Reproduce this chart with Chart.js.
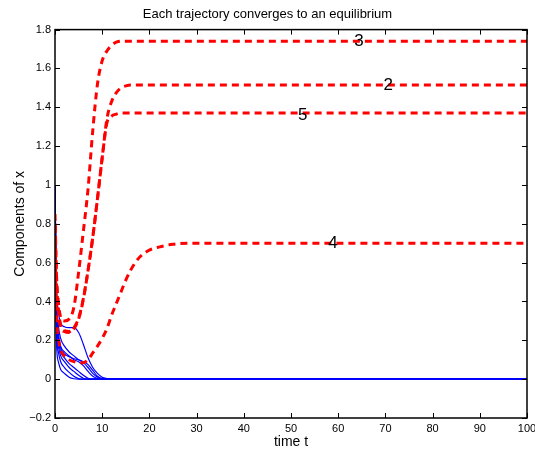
<!DOCTYPE html>
<html lang="en">
<head>
    <meta charset="UTF-8">
    <title>Each trajectory converges to an equilibrium</title>
    <script src="https://cdn.jsdelivr.net/npm/chart.js"></script>
    <style>
        body { margin: 0; background: #fff; }
    </style>
</head>
<body>
    <canvas id="trajChart" width="535" height="451"></canvas>

    <script>
        // time grid shared by all trajectories
        const timeT = [0, 0.3, 0.7, 1.2, 2, 3, 4, 5, 6, 7, 8, 9, 10, 11, 12, 13, 14, 15, 16, 17, 18, 19, 20, 22, 25, 30, 100];

        // components that go to a nonzero equilibrium (red dashed)
        const comp3 = [0.85, 0.55, 0.4, 0.32, 0.30, 0.31, 0.37, 0.55, 0.76, 0.98, 1.28, 1.52, 1.64, 1.69, 1.72, 1.735, 1.74, 1.74, 1.74, 1.74, 1.74, 1.74, 1.74, 1.74, 1.74, 1.74, 1.74];
        const comp2 = [0.8, 0.5, 0.35, 0.27, 0.245, 0.24, 0.26, 0.31, 0.41, 0.56, 0.73, 0.93, 1.14, 1.34, 1.43, 1.475, 1.50, 1.51, 1.515, 1.515, 1.515, 1.515, 1.515, 1.515, 1.515, 1.515, 1.515];
        const comp5 = [0.8, 0.51, 0.36, 0.28, 0.25, 0.245, 0.265, 0.315, 0.415, 0.56, 0.73, 0.93, 1.14, 1.32, 1.355, 1.365, 1.37, 1.37, 1.37, 1.37, 1.37, 1.37, 1.37, 1.37, 1.37, 1.37, 1.37];
        const comp4 = [0.7, 0.35, 0.22, 0.15, 0.12, 0.10, 0.09, 0.085, 0.085, 0.10, 0.135, 0.17, 0.21, 0.26, 0.33, 0.39, 0.45, 0.51, 0.56, 0.60, 0.63, 0.65, 0.665, 0.68, 0.695, 0.70, 0.70];

        // components that die out (blue solid)
        const blue1 = [1, 0.5, 0.35, 0.29, 0.27, 0.265, 0.265, 0.24, 0.18, 0.11, 0.06, 0.03, 0.01, 0.003, 0, 0, 0, 0, 0, 0, 0, 0, 0, 0, 0, 0, 0];
        const blue2 = [1, 0.45, 0.28, 0.21, 0.17, 0.14, 0.12, 0.10, 0.085, 0.06, 0.03, 0.01, 0, 0, 0, 0, 0, 0, 0, 0, 0, 0, 0, 0, 0, 0, 0];
        const blue3 = [1, 0.4, 0.24, 0.17, 0.14, 0.12, 0.10, 0.09, 0.07, 0.04, 0.015, 0.003, 0, 0, 0, 0, 0, 0, 0, 0, 0, 0, 0, 0, 0, 0, 0];
        const blue4 = [1, 0.35, 0.2, 0.14, 0.11, 0.08, 0.06, 0.04, 0.02, 0.005, 0, 0, 0, 0, 0, 0, 0, 0, 0, 0, 0, 0, 0, 0, 0, 0, 0];
        const blue5 = [1, 0.3, 0.17, 0.12, 0.09, 0.06, 0.04, 0.02, 0.005, 0, 0, 0, 0, 0, 0, 0, 0, 0, 0, 0, 0, 0, 0, 0, 0, 0, 0];
        const blue6 = [1, 0.26, 0.14, 0.09, 0.06, 0.035, 0.015, 0.003, 0, 0, 0, 0, 0, 0, 0, 0, 0, 0, 0, 0, 0, 0, 0, 0, 0, 0, 0];
        const blue7 = [1, 0.2, 0.09, 0.05, 0.03, 0.01, 0.002, 0, 0, 0, 0, 0, 0, 0, 0, 0, 0, 0, 0, 0, 0, 0, 0, 0, 0, 0, 0];
        const blue8 = [1, 0.38, 0.22, 0.16, 0.13, 0.115, 0.105, 0.1, 0.09, 0.075, 0.045, 0.015, 0.003, 0, 0, 0, 0, 0, 0, 0, 0, 0, 0, 0, 0, 0, 0];

        // curve labels
        const labelText = ['3', '2', '5', '4'];
        const labelT = [64.4, 70.6, 52.5, 58.9];
        const labelY = [1.74, 1.515, 1.36, 0.70];

        // axis ticks
        const xTicks = [0, 10, 20, 30, 40, 50, 60, 70, 80, 90, 100];
        const yTicks = [-0.2, 0, 0.2, 0.4, 0.6, 0.8, 1, 1.2, 1.4, 1.6, 1.8];

        const FONT = '"Liberation Sans", Arial, Helvetica, sans-serif';

        function toPoints(values) {
            return values.map((v, i) => ({ x: timeT[i], y: v }));
        }

        function redSet(values) {
            return {
                data: toPoints(values),
                borderColor: '#ff0000',
                borderWidth: 3,
                borderDash: [7, 5],
                pointRadius: 0,
                cubicInterpolationMode: 'monotone',
                order: 0
            };
        }

        function blueSet(values) {
            return {
                data: toPoints(values),
                borderColor: '#0000ff',
                borderWidth: 1.2,
                pointRadius: 0,
                cubicInterpolationMode: 'monotone',
                order: 1
            };
        }

        function fmt(v) {
            const s = String(Math.round(v * 10) / 10);
            return v < 0 ? '\u2212' + s.slice(1) : s;
        }

        // box, inward ticks on all four sides, and curve labels
        const boxPlugin = {
            id: 'box',
            afterDraw(chart) {
                const ctx = chart.ctx;
                const a = chart.chartArea;
                const xs = chart.scales.x, ys = chart.scales.y;
                ctx.save();
                ctx.strokeStyle = '#000';
                ctx.lineWidth = 1;
                ctx.beginPath();
                xTicks.forEach(t => {
                    const px = Math.round(xs.getPixelForValue(t)) + 0.5;
                    ctx.moveTo(px, a.bottom); ctx.lineTo(px, a.bottom - 5);
                    ctx.moveTo(px, a.top); ctx.lineTo(px, a.top + 5);
                });
                yTicks.forEach(v => {
                    const py = Math.round(ys.getPixelForValue(v)) + 0.5;
                    ctx.moveTo(a.left, py); ctx.lineTo(a.left + 5, py);
                    ctx.moveTo(a.right, py); ctx.lineTo(a.right - 5, py);
                });
                ctx.stroke();
                ctx.lineWidth = 1.5;
                ctx.strokeRect(a.left, a.top, a.right - a.left, a.bottom - a.top);

                ctx.fillStyle = '#000';
                ctx.font = '17px ' + FONT;
                ctx.textAlign = 'center';
                ctx.textBaseline = 'middle';
                labelText.forEach((s, i) => {
                    ctx.fillText(s, xs.getPixelForValue(labelT[i]), ys.getPixelForValue(labelY[i]));
                });
                ctx.restore();
            }
        };

        const ctx = document.getElementById('trajChart').getContext('2d');
        new Chart(ctx, {
            type: 'line',
            data: {
                datasets: [
                    redSet(comp3), redSet(comp2), redSet(comp5), redSet(comp4),
                    blueSet(blue1), blueSet(blue2), blueSet(blue3), blueSet(blue4),
                    blueSet(blue5), blueSet(blue6), blueSet(blue7), blueSet(blue8)
                ]
            },
            options: {
                responsive: false,
                animation: false,
                layout: { padding: { left: 0, right: 0, top: 0, bottom: 0 } },
                plugins: {
                    legend: { display: false },
                    tooltip: { enabled: false },
                    title: {
                        display: true,
                        text: 'Each trajectory converges to an equilibrium',
                        color: '#000',
                        font: { family: FONT, size: 13, weight: 'normal' },
                        padding: { top: 7, bottom: 7 }
                    }
                },
                scales: {
                    x: {
                        type: 'linear',
                        min: 0,
                        max: 100,
                        afterBuildTicks: s => { s.ticks = xTicks.map(v => ({ value: v })); },
                        afterFit: s => { s.height = 33; s.paddingRight = 8; },
                        grid: { display: false, drawTicks: false },
                        border: { display: false },
                        ticks: {
                            color: '#000',
                            padding: 4,
                            maxRotation: 0,
                            font: { family: FONT, size: 11 },
                            callback: v => fmt(v)
                        },
                        title: {
                            display: true,
                            text: 'time t',
                            color: '#000',
                            font: { family: FONT, size: 14 },
                            padding: { top: 0, bottom: 0 }
                        }
                    },
                    y: {
                        type: 'linear',
                        min: -0.2,
                        max: 1.8,
                        afterBuildTicks: s => { s.ticks = yTicks.map(v => ({ value: v })); },
                        afterFit: s => { s.width = 55; },
                        grid: { display: false, drawTicks: false },
                        border: { display: false },
                        ticks: {
                            color: '#000',
                            padding: 4,
                            font: { family: FONT, size: 11 },
                            callback: v => fmt(v)
                        },
                        title: {
                            display: true,
                            text: 'Components of x',
                            color: '#000',
                            font: { family: FONT, size: 14 },
                            padding: { top: 12, bottom: 0 }
                        }
                    }
                }
            },
            plugins: [boxPlugin]
        });
    </script>
</body>
</html>
